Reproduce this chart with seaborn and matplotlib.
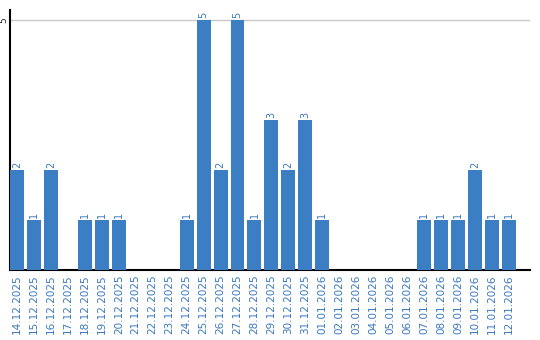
import matplotlib
matplotlib.use("Agg")
import matplotlib.pyplot as plt
import seaborn as sns
import pandas as pd

dates = ["14.12.2025", "15.12.2025", "16.12.2025", "17.12.2025", "18.12.2025",
         "19.12.2025", "20.12.2025", "21.12.2025", "22.12.2025", "23.12.2025",
         "24.12.2025", "25.12.2025", "26.12.2025", "27.12.2025", "28.12.2025",
         "29.12.2025", "30.12.2025", "31.12.2025", "01.01.2026", "02.01.2026",
         "03.01.2026", "04.01.2026", "05.01.2026", "06.01.2026", "07.01.2026",
         "08.01.2026", "09.01.2026", "10.01.2026", "11.01.2026", "12.01.2026"]
counts = [2, 1, 2, 0, 1, 1, 1, 0, 0, 0, 1, 5, 2, 5, 1, 3, 2, 3, 1, 0,
          0, 0, 0, 0, 1, 1, 1, 2, 1, 1]
y_ticks = [5]

sns.set_theme(style="white")
plt.rcParams['font.family'] = ['DejaVu Sans']

bar_color = "#3b7ec4"
text_color = "#3a78c0"

df = pd.DataFrame({"date": dates, "count": counts})
fig = plt.figure(figsize=(5.4, 3.4), dpi=100)
ax = fig.add_axes([10/540, 1-270/340, 520/540, 260/340])
sns.barplot(data=df, x="date", y="count", color=bar_color, width=14/17,
            saturation=1, ax=ax, zorder=3, linewidth=0, edgecolor="none")

for i, v in enumerate(counts):
    if v > 0:
        ax.text(i, v + 0.04, str(v), rotation=90, ha="center", va="bottom",
                fontsize=7, color=text_color)

ax.set_xlim(-0.41, 30.24)
ax.set_ylim(0, 5.2)
ax.set_yticks(y_ticks)
ax.set_yticklabels([str(t) for t in y_ticks], rotation=90, va="center", fontsize=6.5, color="#222222")
ax.tick_params(axis="y", length=0, pad=1)
ax.tick_params(axis="x", length=0, pad=3)
ax.set_xticks(range(len(dates)))
ax.set_xticklabels(dates, rotation=90, fontsize=7.5, color=text_color)
ax.yaxis.grid(True, color="#c8c8c8", linewidth=1)
ax.set_axisbelow(True)
ax.set_xlabel("")
ax.set_ylabel("")
for s in ["top", "right"]:
    ax.spines[s].set_visible(False)
for s in ["left", "bottom"]:
    ax.spines[s].set_color("black")
    ax.spines[s].set_linewidth(1.5)

fig.savefig("out.png", dpi=100)
